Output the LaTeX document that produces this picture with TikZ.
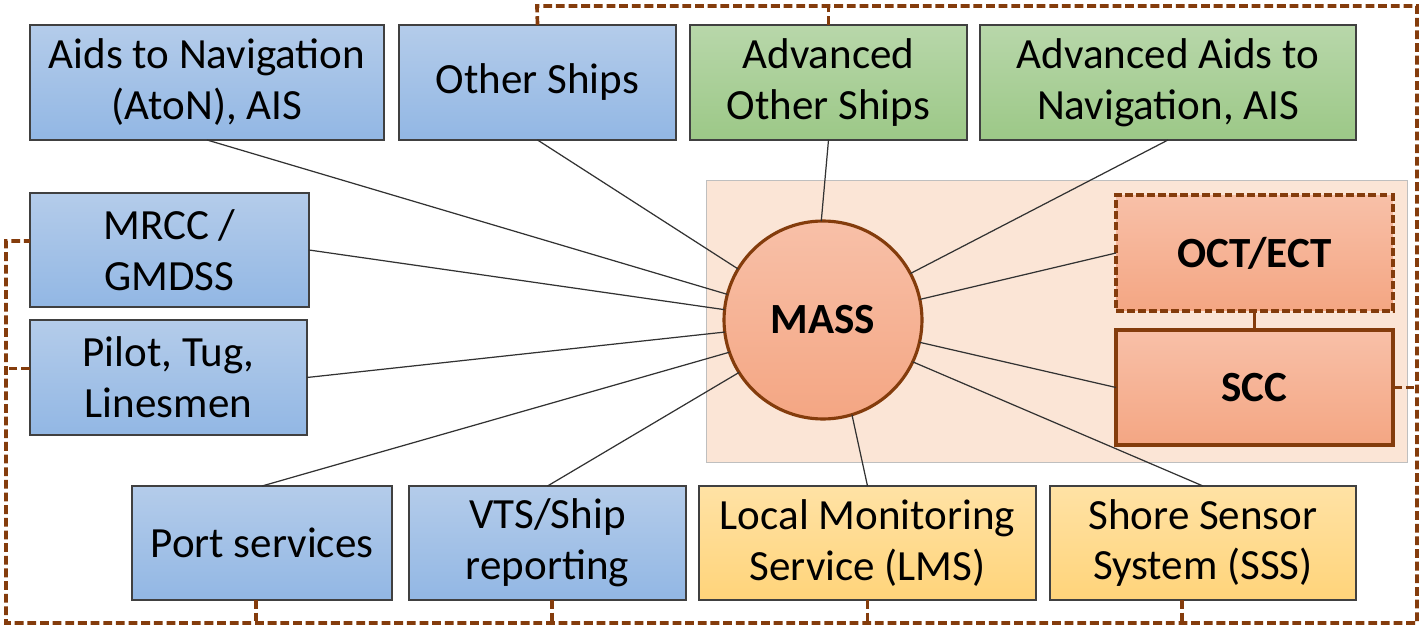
\documentclass[tikz,border=0pt]{standalone}
\usepackage{fontspec}
\setmainfont{Carlito}
\usetikzlibrary{calc}
\definecolor{blueTop}{RGB}{180,204,234}
\definecolor{blueBot}{RGB}{146,183,228}
\definecolor{greenTop}{RGB}{184,215,170}
\definecolor{greenBot}{RGB}{156,200,135}
\definecolor{yellowTop}{RGB}{255,226,165}
\definecolor{yellowBot}{RGB}{255,212,122}
\definecolor{salmonTop}{RGB}{248,192,168}
\definecolor{salmonBot}{RGB}{244,166,131}
\definecolor{peach}{RGB}{251,229,214}
\definecolor{busbrown}{RGB}{132,60,12}
\definecolor{linkgray}{RGB}{50,50,50}
\tikzset{
  box/.style={draw=black!75, line width=0.8pt, align=center, inner sep=0pt, outer sep=0pt,
    minimum height=2.3cm, font=\fontsize{24.5}{29}\selectfont},
  bluebox/.style={box, top color=blueTop, bottom color=blueBot},
  greenbox/.style={box, top color=greenTop, bottom color=greenBot},
  yellowbox/.style={box, top color=yellowTop, bottom color=yellowBot},
  sccbox/.style={box, draw=busbrown, line width=2pt, top color=salmonTop, bottom color=salmonBot,
    font=\fontsize{24.5}{29}\selectfont\bfseries},
  link/.style={draw=linkgray, line width=0.7pt},
  bus/.style={draw=busbrown, line width=2.1pt, dash pattern=on 5pt off 2.2pt},
}
\begin{document}
\begin{tikzpicture}[x=0.02cm,y=-0.02cm]
  \useasboundingbox (0,0) rectangle (1420,628);
  %%% background of the ship side
  \draw[draw=black!25, fill=peach, line width=0.5pt] (706,180) rectangle (1407,462);

  %%% top row
  \node[bluebox, minimum width=7.08cm] (aton) at (207,82.5) {Aids to Navigation\\(AtoN), AIS};
  \node[bluebox, minimum width=5.54cm] (other) at (537.5,82.5) {Other Ships};
  \node[greenbox, minimum width=5.54cm] (advother) at (828.5,82.5) {Advanced\\Other Ships};
  \node[greenbox, minimum width=7.52cm] (advaton) at (1168,82.5) {Advanced Aids to\\Navigation, AIS};

  %%% left column
  \node[bluebox, minimum width=5.58cm, minimum height=2.28cm] (mrcc) at (169.5,250) {MRCC /\\GMDSS};
  \node[bluebox, minimum width=5.54cm] (pilot) at (168.5,377.5) {Pilot, Tug,\\Linesmen};

  %%% bottom row
  \node[bluebox, minimum width=5.2cm, minimum height=2.28cm] (port) at (262,543) {Port services};
  \node[bluebox, minimum width=5.54cm, minimum height=2.28cm] (vts) at (547.5,543) {VTS/Ship\\reporting};
  \node[yellowbox, minimum width=6.74cm, minimum height=2.28cm] (lms) at (867.5,543) {Local Monitoring\\Service (LMS)};
  \node[yellowbox, minimum width=6.12cm, minimum height=2.28cm] (sss) at (1203,543) {Shore Sensor\\System (SSS)};

  %%% ship and control centres
  \node[sccbox, circle, line width=1.8pt, minimum size=3.96cm] (mass) at (823,320) {MASS};
  \node[sccbox, dash pattern=on 4.5pt off 1.8pt, minimum width=5.54cm, minimum height=2.32cm] (oct) at (1254.5,253) {OCT/ECT};
  \node[sccbox, minimum width=5.54cm] (scc) at (1254.5,387.5) {SCC};
  \draw[draw=busbrown, line width=1.8pt] (oct.south) -- (scc.north);

  %%% links to MASS
  \draw[link] (aton.south) -- (mass.165);
  \draw[link] (other.south) -- (mass.149);
  \draw[link] (advother.south) -- (mass.91);
  \draw[link] (advaton.south) -- (mass.28);
  \draw[link] (mrcc.east) -- (mass.174);
  \draw[link] (pilot.east) -- (mass.187);
  \draw[link] (port.north) -- (mass.199);
  \draw[link] (vts.north) -- (mass.212);
  \draw[link] (lms.north) -- (mass.-73);
  \draw[link] (sss.north) -- (mass.-25);
  \draw[link] (oct.west) -- (mass.12);
  \draw[link] (scc.west) -- (mass.-13);

  %%% dashed communication loop
  \coordinate (tl) at (537,6);
  \coordinate (tr) at (1417,6);
  \coordinate (br) at (1417,623);
  \coordinate (bl) at (6,623);
  \coordinate (lt) at (6,241);
  \draw[bus] (other.north) -- (tl) -- (tr) -- (br) -- (bl) -- (lt) -- ([yshift=0.18cm]mrcc.west);
  \draw[bus] (advother.north) -- (advother.north |- tl);
  \draw[bus] ([yshift=0.18cm]pilot.west) -- ([yshift=0.18cm]lt |- pilot.west);
  \draw[bus] ([xshift=-0.12cm]port.south) -- ([xshift=-0.12cm]port.south |- bl);
  \draw[bus] ([xshift=0.09cm]vts.south) -- ([xshift=0.09cm]vts.south |- bl);
  \draw[bus] (lms.south) -- (lms.south |- bl);
  \draw[bus] ([xshift=-0.42cm]sss.south) -- ([xshift=-0.42cm]sss.south |- bl);
  \draw[bus] (scc.east) -- (scc.east -| tr);
\end{tikzpicture}
\end{document}
